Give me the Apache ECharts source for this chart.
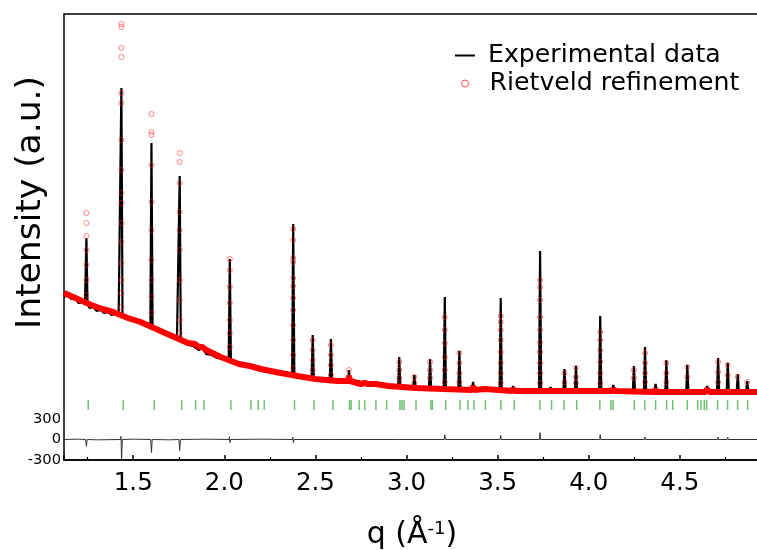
<!DOCTYPE html>
<html>
<head>
<meta charset="utf-8">
<script src="https://cdn.jsdelivr.net/npm/echarts@6/dist/echarts.min.js"></script>
<style>html,body{margin:0;padding:0;background:#fff;}#chart{width:757px;height:550px;}</style>
</head>
<body>
<div id="chart"></div>
<script>
// ---- data (intensity in arbitrary units) ----
// experimental background nodes [q, I]
var expBackground = [
  [1.12,163],[1.14,165],[1.16,161],[1.18,162],[1.20,157],[1.22,158],[1.235,156],
  [1.26,152],[1.28,153],[1.30,149],[1.32,150],[1.34,147],[1.36,148],[1.38,145],[1.40,146],[1.42,145],
  [1.45,142],[1.47,141],[1.50,139],[1.53,137],[1.56,135],[1.58,134],
  [1.62,132],[1.65,129],[1.68,126],[1.71,124],[1.74,121],
  [1.77,119],[1.80,115],[1.83,114],[1.84,116],[1.86,110],[1.88,112],[1.90,106],[1.93,105],[1.96,102],[2.00,101],
  [2.06,96],[2.10,94],[2.14,93],[2.15,95],[2.17,91],[2.19,92],[2.22,90],[2.25,88],[2.30,87],[2.35,85],
  [2.42,84],[2.45,82],[2.53,81],[2.63,79],[2.72,77],[2.74,79],[2.76,76],[2.79,77],[2.83,75],[2.86,75],
  [2.89,76],[2.92,74],[3.00,73],[3.08,72],[3.17,71],[3.25,71],[3.33,70],[3.40,70],[3.43,72],[3.46,70],
  [3.55,70],[3.63,69],[3.68,69],[3.77,69],[3.83,69],[3.98,69],[4.02,69],[4.10,69],[4.18,68],[4.21,69],
  [4.34,68],[4.40,68],[4.46,69],[4.50,68],[4.58,68],[4.61,69],[4.68,68],[4.90,68],[4.94,68]
];
// experimental peaks [q, top, base]
var expPeaks = [
  [1.243,222,156],[1.435,372,145],[1.600,317,134],[1.755,284,121],[2.030,201,100],
  [2.378,236,85],[2.485,125,82],[2.585,121,80],[2.684,90,78],[2.960,103,74],
  [3.043,85,73],[3.129,101,72],[3.210,163,71],[3.290,109,71],[3.365,78,70],
  [3.517,162,70],[3.585,74,69],[3.733,209,69],[3.790,73,69],[3.867,91,69],
  [3.930,94,69],[4.063,144,69],[4.135,75,69],[4.248,94,68],[4.309,113,68],
  [4.367,76,68],[4.426,100,68],[4.541,95,68],[4.650,74,68],[4.710,102,68],
  [4.763,97,68],[4.818,86,68],[4.870,79,68]
];
// calculated (Rietveld) background band [q, I]
var calcBackground = [
  [1.12,167],[1.17,163],[1.22,159],[1.27,155],[1.33,151],[1.39,148],[1.47,142],[1.54,138],
  [1.65,129],[1.70,125],[1.80,117],[1.84,116],[1.86,113],[1.88,113],[1.90,110],[1.98,103],
  [2.08,96],[2.14,94],[2.15,96],[2.16,93],[2.18,92],[2.19,93],[2.20,91],[2.28,88],[2.40,84],
  [2.50,81],[2.62,79],[2.68,79],[2.684,84],[2.69,79],[2.73,77],[2.74,79],[2.75,76],[2.77,77],
  [2.79,76],[2.83,76],[2.90,74],[3.05,72],[3.20,71],[3.36,70],[3.365,74],[3.37,70],[3.43,71],
  [3.58,69],[3.585,72],[3.59,69],[3.79,69],[3.795,71],[3.80,69],[4.13,69],[4.135,72],[4.14,69],
  [4.36,68],[4.367,71],[4.373,68],[4.64,68],[4.65,71],[4.66,68],[4.94,68]
];
// calculated profile points on the peaks [q, [I...]]
var calcPeaks = [
  [1.243,[247,237,224,210,195,180,165]],
  [1.435,[436,433,412,403,367,357,320,290,267,257,237,218,197,180,167,153]],
  [1.600,[346,328,325,295,258,230,200,180,163,147]],
  [1.755,[307,298,277,248,230,210,180,160,140,127]],
  [2.030,[201,190,173,157,140,127,113]],
  [2.378,[231,220,202,198,182,174,162,150,135,120,105,92]],
  [2.485,[120,110,100,90,82]],
  [2.585,[115,105,95,85]],
  [2.684,[90,83]],
  [2.960,[98,90,82,75]],
  [3.043,[83,77]],
  [3.129,[98,90,82]],
  [3.210,[143,130,117,103,90,78]],
  [3.290,[107,97,87,78]],
  [3.517,[144,138,130,120,108,97,87,77]],
  [3.733,[180,173,160,143,130,118,108,97,87,77]],
  [3.867,[87,78]],
  [3.930,[92,83,77]],
  [4.063,[128,120,110,98,87,77]],
  [4.248,[90,82]],
  [4.309,[107,97,87,78]],
  [4.426,[97,87,78]],
  [4.541,[93,83]],
  [4.710,[98,88,78]],
  [4.763,[95,85]],
  [4.818,[83]],
  [4.870,[78]]
];
// difference curve [q, counts]
var diffData = [
  [1.12,0],[1.20,5],[1.239,0],[1.243,-100],[1.247,0],[1.30,-5],[1.431,0],[1.433,45],[1.436,-295],[1.440,0],
  [1.50,5],[1.596,0],[1.600,-190],[1.604,0],[1.70,-5],[1.751,0],[1.755,-160],[1.759,0],[1.90,5],
  [2.026,0],[2.028,40],[2.031,-45],[2.035,0],[2.20,5],[2.374,0],[2.376,35],[2.379,-45],[2.383,0],
  [2.482,0],[2.485,20],[2.488,0],[2.582,0],[2.585,15],[2.588,0],[2.957,0],[2.960,20],[2.963,0],
  [3.207,0],[3.210,70],[3.213,0],[3.287,0],[3.290,20],[3.293,0],[3.514,0],[3.517,60],[3.520,0],
  [3.730,0],[3.733,100],[3.736,0],[3.864,0],[3.867,20],[3.870,0],[4.060,0],[4.063,70],[4.066,0],
  [4.306,0],[4.309,35],[4.312,0],[4.423,0],[4.426,20],[4.429,0],[4.538,0],[4.541,20],[4.544,0],
  [4.707,0],[4.710,35],[4.713,0],[4.760,0],[4.763,30],[4.766,0],[4.815,0],[4.818,20],[4.821,0],[4.94,0]
];
// Bragg reflection positions (q)
var braggQ = [
  1.253,1.445,1.615,1.766,1.842,1.888,2.036,2.146,2.186,2.219,2.385,2.492,2.596,2.687,2.696,
  2.740,2.771,2.832,2.891,2.964,2.975,2.986,3.052,3.134,3.142,3.215,3.294,3.337,3.370,3.433,
  3.518,3.591,3.732,3.796,3.864,3.934,4.061,4.122,4.134,4.250,4.308,4.367,4.428,4.461,4.541,
  4.598,4.616,4.634,4.647,4.707,4.762,4.817,4.872
];
var braggLevel = 55;
var diffLabels = [-300, 0, 300];

// ---- build series data ----
var peakHalfWidth = 0.006;
var expData = expBackground.slice();
expPeaks.forEach(function (p) {
  expData.push([p[0] - peakHalfWidth, p[2]], [p[0], p[1]], [p[0] + peakHalfWidth, p[2]]);
});
expData.sort(function (a, b) { return a[0] - b[0]; });
var calcPoints = [];
calcPeaks.forEach(function (p) {
  p[1].forEach(function (v) { calcPoints.push([p[0], v]); });
});
var braggData = braggQ.map(function (q) { return [q, braggLevel]; });

var FONT = '"DejaVu Sans", sans-serif';
var chart = echarts.init(document.getElementById('chart'), null, {renderer: 'canvas'});
chart.setOption({
  animation: false,
  backgroundColor: '#fff',
  grid: {left: 64, top: 14, right: -3, bottom: 90, show: true, borderColor: '#000', borderWidth: 1.5,
    containLabel: false, outerBoundsMode: 'none'},
  legend: [
    {
      data: [{name: 'Experimental data', icon: 'rect', itemStyle: {color: '#000'}}],
      left: 450, top: 38, itemWidth: 20, itemHeight: 2,
      formatter: ' {name}',
      textStyle: {fontFamily: FONT, fontSize: 25.2, color: '#000'},
      selectedMode: false
    },
    {
      data: [{name: 'Rietveld refinement', icon: 'circle', itemStyle: {color: 'rgba(255,255,255,0)', borderColor: '#ff5050', borderWidth: 1}}],
      left: 456, top: 66, itemWidth: 7, itemHeight: 7,
      formatter: '  {name}',
      textStyle: {fontFamily: FONT, fontSize: 25.2, color: '#000'},
      selectedMode: false
    }
  ],
  xAxis: {
    type: 'value', min: 1.12, max: 4.94, minInterval: 0.5, maxInterval: 0.5,
    axisLine: {show: true, lineStyle: {color: '#000', width: 1.5}},
    axisTick: {show: true, inside: true, length: 5, lineStyle: {color: '#000', width: 1.5}},
    minorTick: {show: true, splitNumber: 2, length: 3, lineStyle: {color: '#000', width: 1.2}},
    splitLine: {show: false},
    axisLabel: {fontFamily: FONT, fontSize: 24.5, color: '#000', margin: 11, showMinLabel: false, showMaxLabel: false,
      formatter: function (v) { return v.toFixed(1); }},
    name: 'q (Å{sup|-1})', nameLocation: 'middle', nameGap: 60,
    nameTextStyle: {fontFamily: FONT, fontSize: 30, color: '#000',
      rich: {sup: {fontFamily: FONT, fontSize: 18, color: '#000', verticalAlign: 'top', padding: [0, 0, 12, 0]}}}
  },
  yAxis: [
    {
      type: 'value', min: 0, max: 446, position: 'left',
      axisLine: {show: false}, axisTick: {show: false}, axisLabel: {show: false}, splitLine: {show: false},
      name: 'Intensity (a.u.)', nameLocation: 'middle', nameGap: 15,
      nameTextStyle: {fontFamily: FONT, fontSize: 34.5, color: '#000', padding: [0, 0, 0, 69]}
    },
    {
      type: 'value', min: -300, max: 6227, interval: 300, position: 'left',
      axisLine: {show: false}, axisTick: {show: false}, splitLine: {show: false},
      axisLabel: {fontFamily: FONT, fontSize: 14.7, color: '#000', margin: 3, padding: [4, 0, 0, 0],
        formatter: function (v) { return diffLabels.indexOf(v) >= 0 ? String(v) : ''; }}
    }
  ],
  series: [
    {
      name: 'Experimental data', type: 'line', data: expData, yAxisIndex: 0,
      showSymbol: false, symbol: 'none', z: 2,
      lineStyle: {color: '#000', width: 2.2}, itemStyle: {color: '#000'}
    },
    {
      name: 'Rietveld refinement', type: 'line', data: calcBackground, yAxisIndex: 0,
      showSymbol: false, symbol: 'none', z: 3,
      lineStyle: {color: '#ff0000', width: 6}, itemStyle: {color: '#ff0000'}
    },
    {
      name: 'Rietveld refinement', type: 'scatter', data: calcPoints, yAxisIndex: 0,
      symbol: 'circle', symbolSize: 5, z: 4,
      itemStyle: {color: 'rgba(255,255,255,0)', borderColor: 'rgba(255,40,40,0.7)', borderWidth: 1}
    },
    {
      name: 'bragg', type: 'scatter', data: braggData, yAxisIndex: 0,
      symbol: 'rect', symbolSize: [1.5, 10], z: 2,
      itemStyle: {color: '#4caf50'}
    },
    {
      name: 'difference', type: 'line', data: diffData, yAxisIndex: 1,
      showSymbol: false, symbol: 'none', z: 2,
      lineStyle: {color: '#333', width: 1}
    }
  ]
});
</script>
</body>
</html>
